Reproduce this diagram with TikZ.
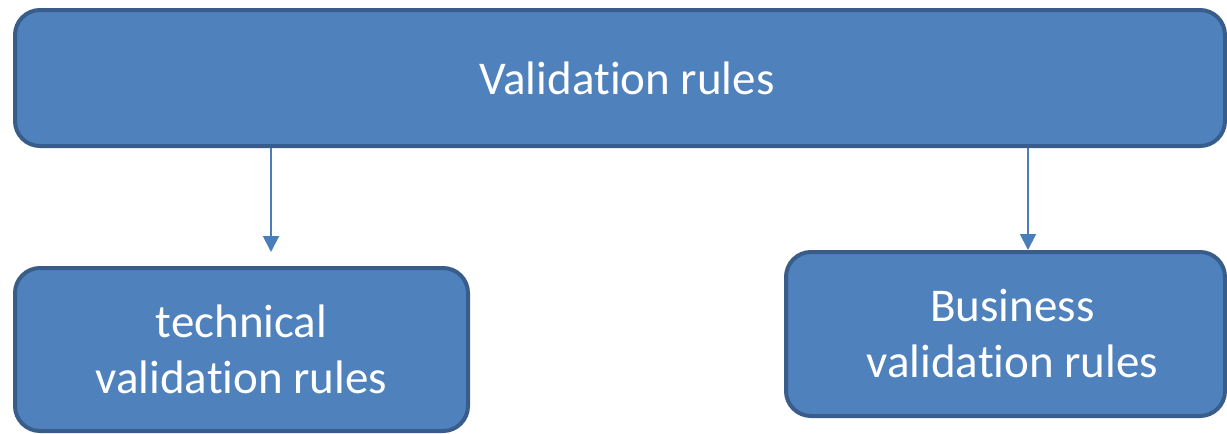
\documentclass[tikz,border=0pt]{standalone}
\usepackage{fontspec}
\setmainfont{Carlito}[RawFeature=-liga]
\usetikzlibrary{arrows.meta}
\definecolor{boxfill}{HTML}{4F81BD}
\definecolor{boxline}{HTML}{385D8A}
\definecolor{arrowc}{HTML}{4A7EBB}
\begin{document}
\begin{tikzpicture}[x=1pt,y=-1pt,
  rulebox/.style={draw=boxline, fill=boxfill, line width=4pt,
    rounded corners=25pt, inner sep=0pt},
  ruletext/.style={text=white, align=center, inner sep=0pt,
    font=\fontsize{47}{56}\selectfont},
  link/.style={draw=arrowc, line width=2pt,
    -{Triangle[length=16pt,width=16pt]}}]
\useasboundingbox (0,0) rectangle (1227,434);
% boxes
\node[rulebox, minimum width=1210pt, minimum height=136pt] (top) at (620,78) {};
\node[rulebox, minimum width=453pt, minimum height=163pt] (left) at (241.5,349.5) {};
\node[rulebox, minimum width=439pt, minimum height=164pt] (right) at (1005.5,334) {};
% labels
\node[ruletext] (toptext) at ([xshift=7pt]top.center) {Validation rules};
\node[ruletext] (lefttext) at (left.center) {technical\\validation rules};
\node[ruletext] (righttext) at ([xshift=7pt]right.center) {Business\\validation rules};
% connectors
\coordinate (lefttip) at (271,252);
\coordinate (rightx) at (1028,0);
\draw[link] (top.south -| lefttip) -- (lefttip);
\draw[link] (top.south -| rightx) -- (right.north -| rightx);
\end{tikzpicture}
\end{document}
